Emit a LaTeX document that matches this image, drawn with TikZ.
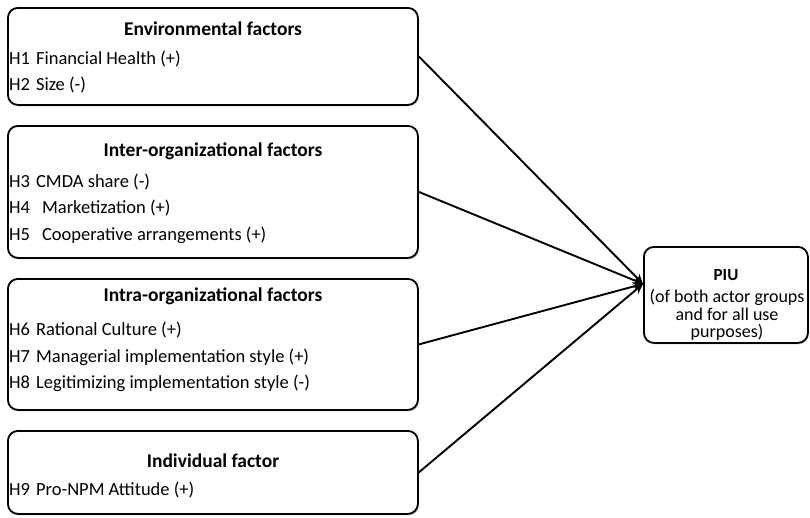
\documentclass[tikz,border=0pt]{standalone}
\usepackage{fontspec}
\setmainfont{Carlito}
\usetikzlibrary{arrows.meta,shadows,calc}

\begin{document}
\begin{tikzpicture}[x=1pt,y=-1pt,
  factorbox/.style={draw=black, line width=1.8pt, rounded corners=10pt, fill=white,
    drop shadow={shadow xshift=1pt, shadow yshift=-1.5pt, fill=black!30, opacity=0.6},
    anchor=north west, inner sep=0pt, minimum width=410pt},
  boxtitle/.style={font=\fontsize{19.5}{22}\selectfont\bfseries, inner sep=0pt},
  item/.style={font=\fontsize{18.5}{21}\selectfont, anchor=west, inner sep=0pt},
  piutext/.style={font=\fontsize{18}{17.5}\selectfont, align=center, inner sep=0pt},
  link/.style={line width=1.9pt, -{Stealth[length=10pt,width=9pt]}}
]
\useasboundingbox (0,0) rectangle (810,517);

% factor boxes on the left
\node[factorbox, minimum height=97pt]  (env)   at (7,7)   {};
\node[factorbox, minimum height=132pt] (inter) at (7,125) {};
\node[factorbox, minimum height=131pt] (intra) at (7,278) {};
\node[factorbox, minimum height=83pt]  (indiv) at (7,430) {};

% outcome box
\node[factorbox, minimum width=164pt, minimum height=96pt] (piu) at (643,246) {};

% titles
\node[boxtitle] (envt)   at (213,29)  {Environmental factors};
\node[boxtitle] (intert) at (213,151) {Inter-organizational factors};
\node[boxtitle] (intrat) at (213,296) {Intra-organizational factors};
\node[boxtitle] (indivt) at (213,461) {Individual factor};

% hypotheses
\node[item] (h1) at (9,59)  {H1\hspace{6pt}Financial Health (+)};
\node[item] (h2) at (9,85)  {H2\hspace{6pt}Size (-)};
\node[item] (h3) at (9,182) {H3\hspace{6pt}CMDA share (-)};
\node[item] (h4) at (9,208) {H4\hspace{12pt}Marketization (+)};
\node[item] (h5) at (9,235) {H5\hspace{12pt}Cooperative arrangements (+)};
\node[item] (h6) at (9,330) {H6\hspace{6pt}Rational Culture (+)};
\node[item] (h7) at (9,357) {H7\hspace{6pt}Managerial implementation style (+)};
\node[item] (h8) at (9,383) {H8\hspace{6pt}Legitimizing implementation style (-)};
\node[item] (h9) at (9,490) {H9\hspace{6pt}Pro-NPM Attitude (+)};

% outcome text
\node[boxtitle, font=\fontsize{17}{20}\selectfont\bfseries] (piut) at (726,275) {PIU};
\node[piutext] (piud) at (727,315) {(of both actor groups\\and for all use\\purposes)};

% connectors converging on the outcome box
\coordinate (tip) at ($(piu.west)+(0,-11)$);
\draw[link] (env.east)   -- (tip);
\draw[link] (inter.east) -- (tip);
\draw[link] (intra.east) -- (tip);
\draw[link] (indiv.east) -- (tip);
\end{tikzpicture}
\end{document}
